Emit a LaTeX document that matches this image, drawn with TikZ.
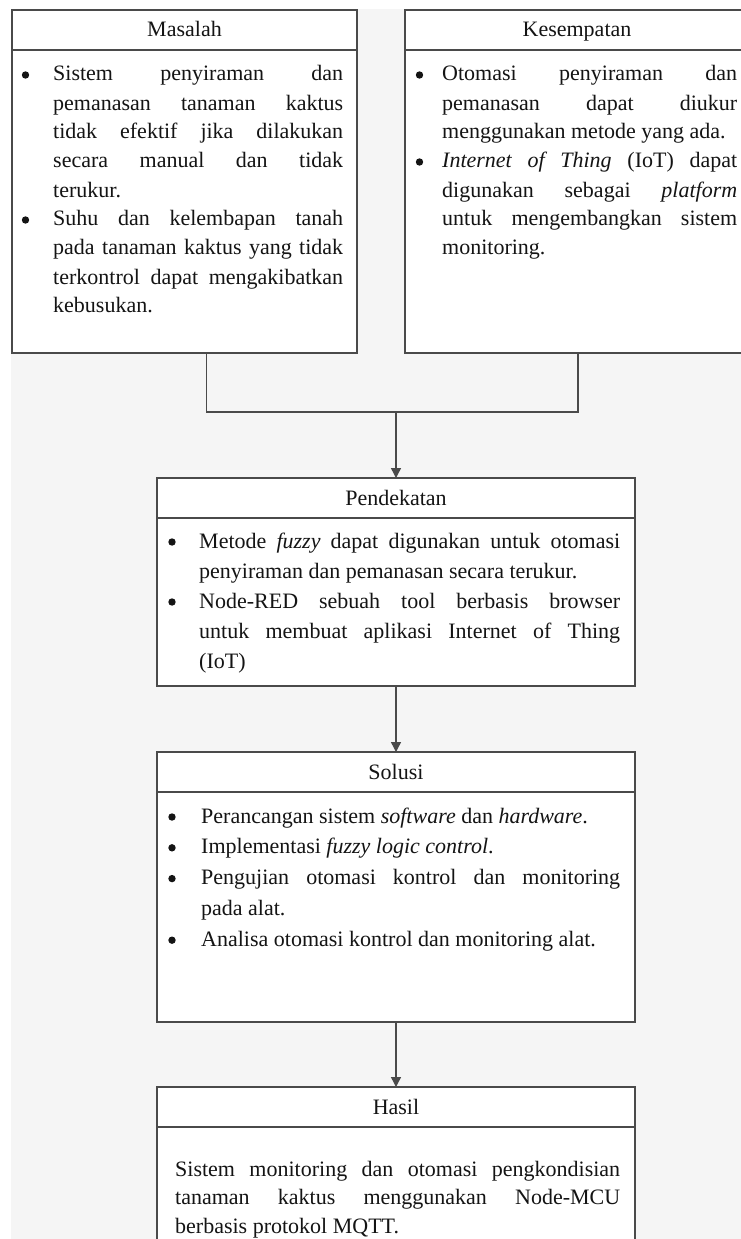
\documentclass[tikz,border=0pt]{standalone}
\usepackage{fontspec}
\setmainfont{Liberation Serif}
\usetikzlibrary{arrows.meta}
\definecolor{bggrey}{HTML}{F5F5F5}
\definecolor{linegrey}{HTML}{4A4A4A}
\definecolor{txt}{HTML}{141414}
\newlength\LW
\newlength\LI
% justified bullet line, last bullet line, justified continuation, last continuation
\newcommand\bfl[1]{\hbox to \LW{\hbox to \LI{\hss}#1}}
\newcommand\bfe[1]{\hbox{\hbox to \LI{\hss}#1}}
\newcommand\cl[1]{\hbox to \LW{\hskip\LI\relax #1}}
\newcommand\ce[1]{\hbox{\hskip\LI\relax #1}}
\tikzset{
  box/.style={draw=linegrey, line width=1.3pt, fill=white, rectangle, inner sep=0pt, outer sep=0pt, anchor=north west},
  hdr/.style={draw=linegrey, line width=1.3pt},
  title/.style={anchor=base, inner sep=0pt, text=txt, font=\fontsize{22}{29}\selectfont},
  body/.style={anchor=base west, inner sep=0pt, text=txt, font=\fontsize{22}{29}\selectfont},
  conn/.style={draw=linegrey, line width=1.4pt},
  arr/.style={conn, -{Triangle[width=10pt,length=10pt]}},
  bul/.style={fill=txt}
}
\begin{document}
\begin{tikzpicture}[x=1pt, y=-1pt]
\useasboundingbox (0,0) rectangle (741,1239);
\clip (0,0) rectangle (741,1239);
\fill[white] (0,0) rectangle (741,1239);
\fill[bggrey] (11,9) rectangle (741,1239);

% boxes
\node[box, minimum width=345pt, minimum height=343pt] (mas) at (12,10) {};
\node[box, minimum width=344pt, minimum height=343pt] (kes) at (405,10) {};
\node[box, minimum width=478pt, minimum height=208pt] (pen) at (157,478) {};
\node[box, minimum width=478pt, minimum height=270pt] (sol) at (157,752) {};
\node[box, minimum width=478pt, minimum height=200pt] (has) at (157,1087) {};

% header lines
\foreach \b in {mas,kes,pen,sol,has}
  \draw[hdr] ([yshift=-40pt]\b.north west) -- ([yshift=-40pt]\b.north east);

% titles
\node[title] (mast) at ([yshift=-27pt]mas.north) {Masalah};
\node[title] (kest) at ([yshift=-27pt]kes.north) {Kesempatan};
\node[title] (pent) at ([yshift=-27pt]pen.north) {Pendekatan};
\node[title] (solt) at ([yshift=-27pt]sol.north) {Solusi};
\node[title] (hast) at ([yshift=-27pt]has.north) {Hasil};

% bodies
\node[body] (masb) at (21,81) {\vtop{\LW=322pt \LI=32pt \baselineskip=29pt
  \bfl{Sistem penyiraman dan}
  \cl{pemanasan tanaman kaktus}
  \cl{tidak efektif jika dilakukan}
  \cl{secara manual dan tidak}
  \ce{terukur.}
  \bfl{Suhu dan kelembapan tanah}
  \cl{pada tanaman kaktus yang tidak}
  \cl{terkontrol dapat mengakibatkan}
  \ce{kebusukan.}}};

\node[body] (kesb) at (415,81) {\vtop{\LW=322pt \LI=27pt \baselineskip=29pt
  \bfl{Otomasi penyiraman dan}
  \cl{pemanasan dapat diukur}
  \ce{menggunakan metode yang ada.}
  \bfl{\textit{Internet of Thing} (IoT) dapat}
  \cl{digunakan sebagai \textit{platform}}
  \cl{untuk mengembangkan sistem}
  \ce{monitoring.}}};

\node[body] (penb) at (168,548) {\vtop{\LW=452pt \LI=31pt \baselineskip=30pt
  \bfl{Metode \textit{fuzzy} dapat digunakan untuk otomasi}
  \ce{penyiraman dan pemanasan secara terukur.}
  \bfl{Node-RED sebuah tool berbasis browser}
  \cl{untuk membuat aplikasi Internet of Thing}
  \ce{(IoT)}}};

\node[body] (solb) at (168,823) {\vtop{\LW=452pt \LI=33pt \baselineskip=30.8pt
  \bfe{Perancangan sistem \textit{software} dan \textit{hardware}.}
  \bfe{Implementasi \textit{fuzzy logic control}.}
  \bfl{Pengujian otomasi kontrol dan monitoring}
  \ce{pada alat.}
  \bfe{Analisa otomasi kontrol dan monitoring alat.}}};

\node[body] (hasb) at (175,1176) {\vtop{\LW=445pt \LI=0pt \baselineskip=28.5pt
  \cl{Sistem monitoring dan otomasi pengkondisian}
  \cl{tanaman kaktus menggunakan Node-MCU}
  \ce{berbasis protokol MQTT.}}};

% bullets
\foreach \p in {(25.5,75),(25.5,220),(419.5,75),(419.5,162),
                (172,542),(172,602),
                (172,817),(172,847.8),(172,878.6),(172,940.2)}
  \fill[bul] \p circle (3.7pt);

% connectors
\coordinate (j) at (396,412);
\draw[conn] ([xshift=22pt]mas.south) |- (j);
\draw[conn] ([xshift=1pt]kes.south) |- (j);
\draw[arr] (j) -- (pen.north);
\draw[arr] (pen.south) -- (sol.north);
\draw[arr] (sol.south) -- (has.north);
\end{tikzpicture}
\end{document}
